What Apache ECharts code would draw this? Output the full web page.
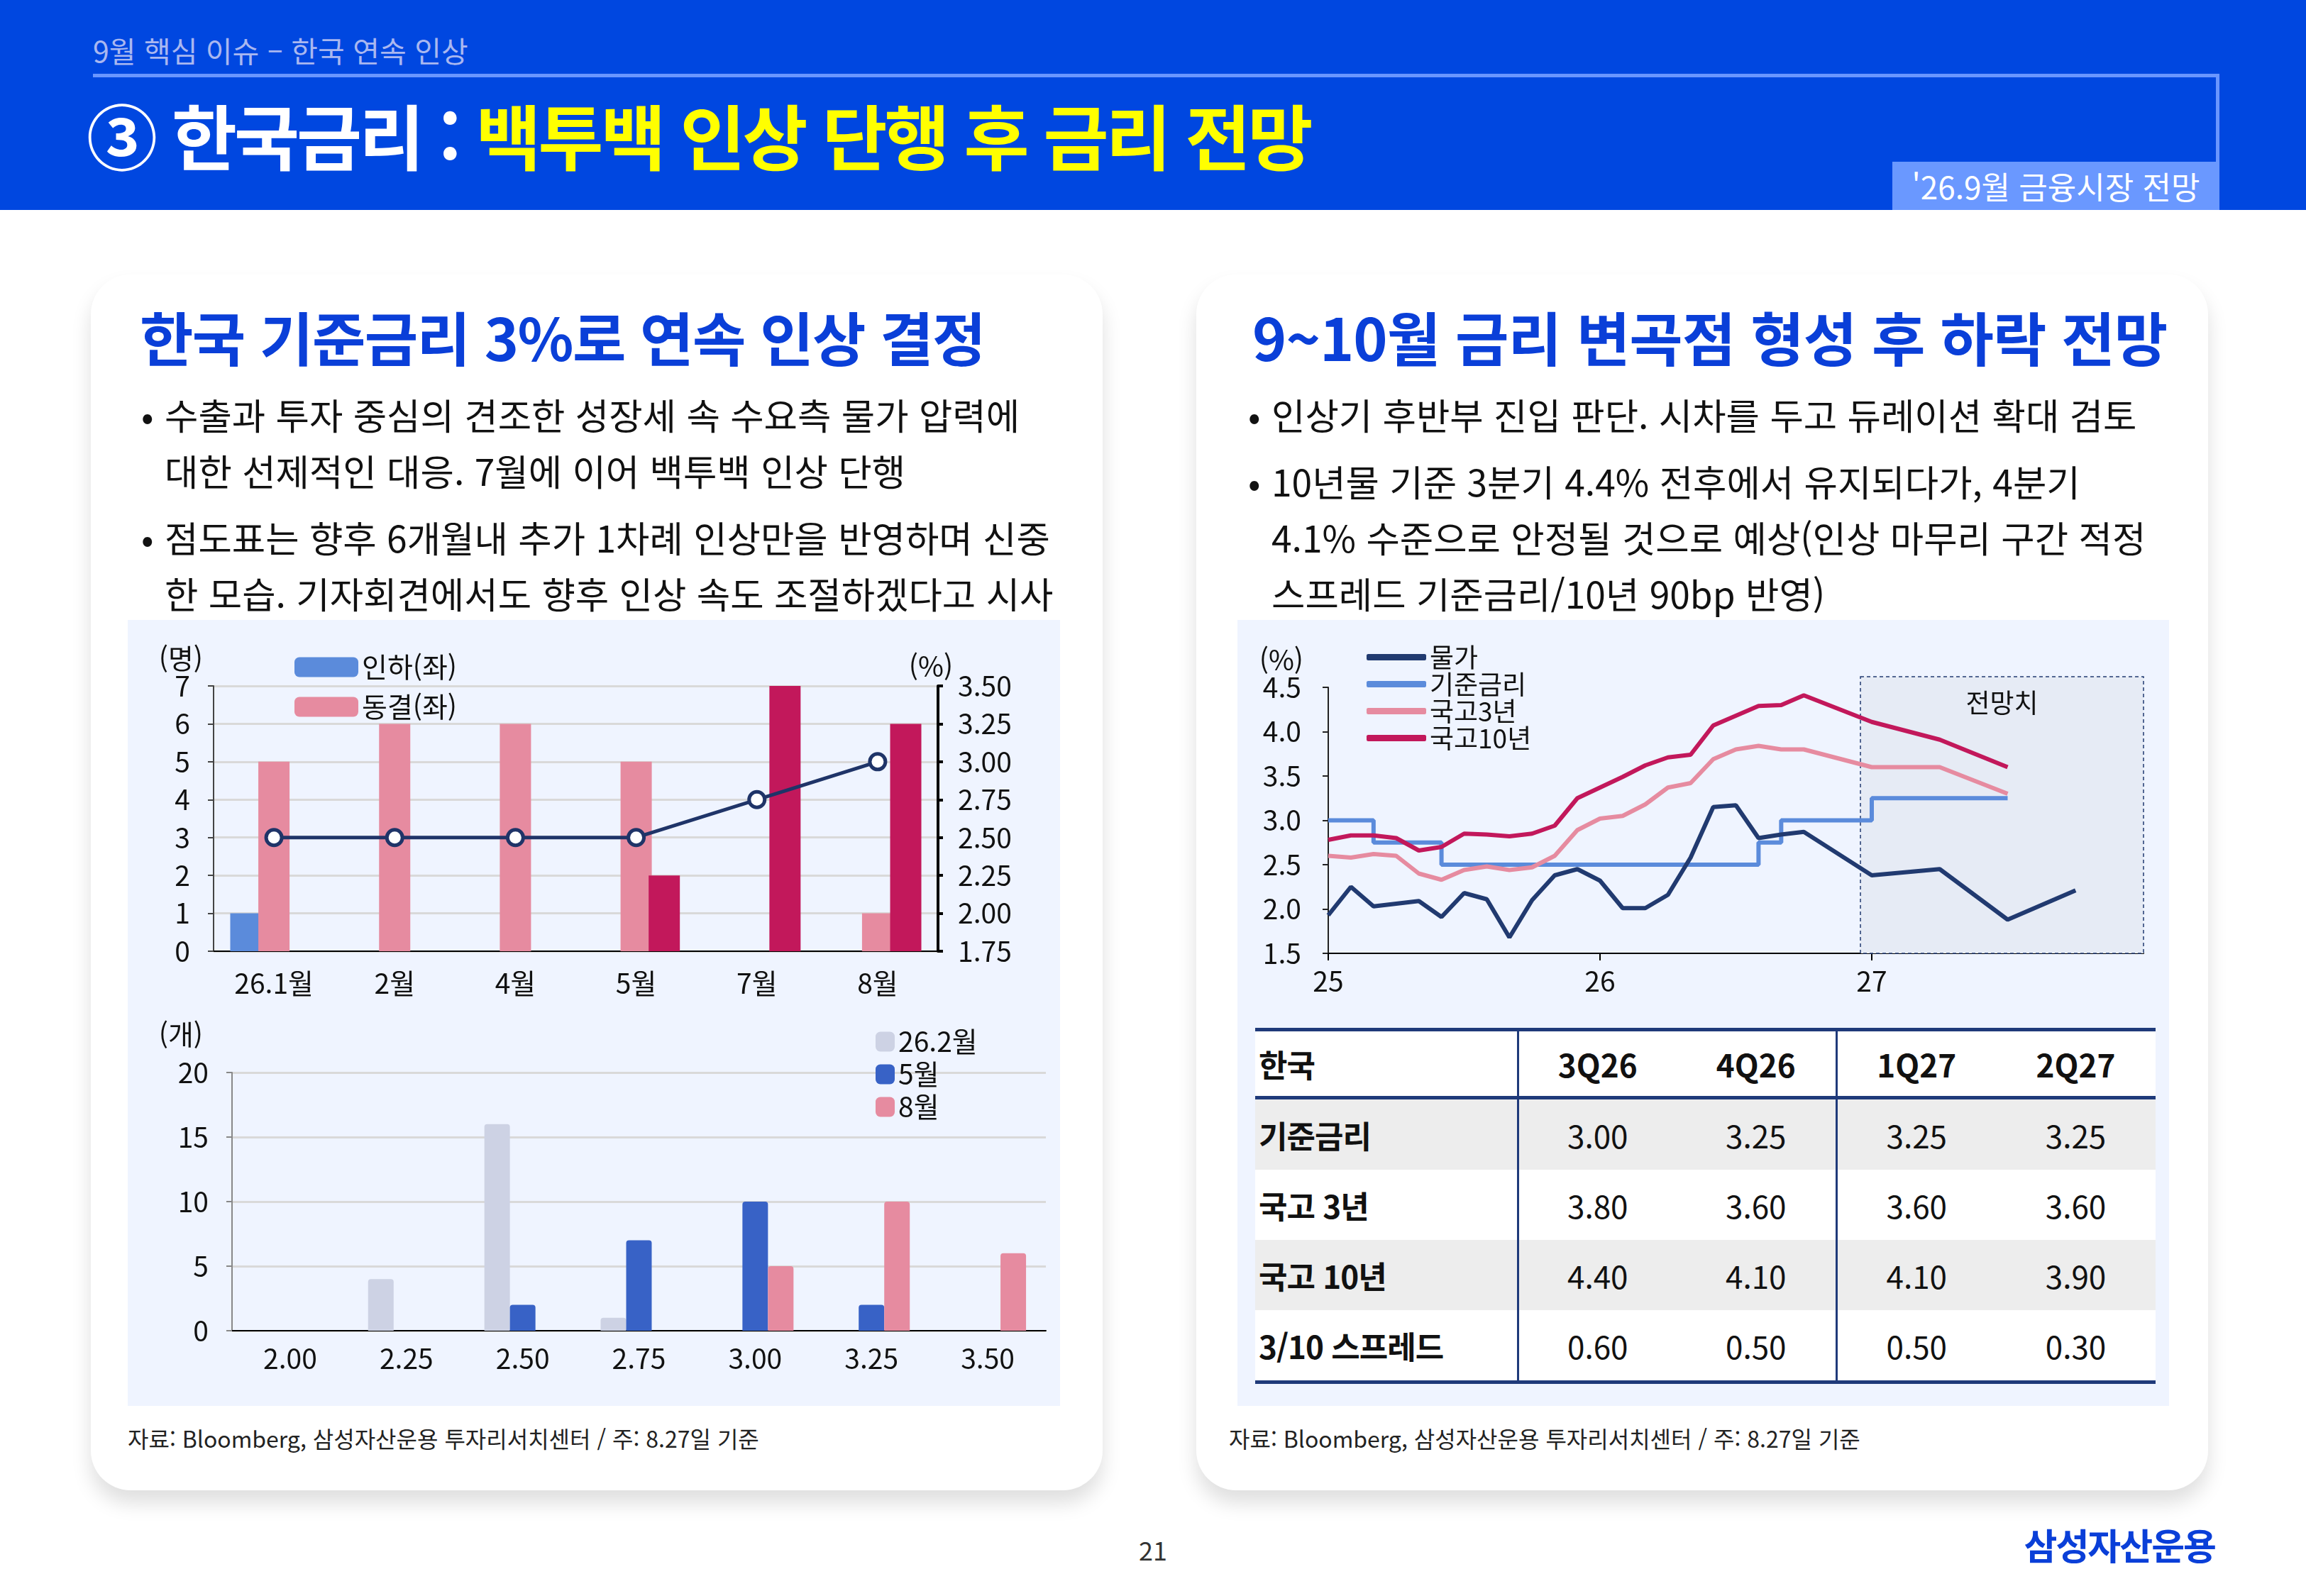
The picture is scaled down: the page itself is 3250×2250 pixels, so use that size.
<!DOCTYPE html>
<html lang="ko">
<head>
<meta charset="utf-8">
<title>한국금리 전망</title>
<script src="https://cdn.jsdelivr.net/npm/echarts@6/dist/echarts.min.js"></script>
<style>
html,body{margin:0;padding:0;}
body{width:3250px;height:2250px;position:relative;overflow:hidden;background:#fff;
  font-family:'Noto Sans CJK KR','Noto Sans',sans-serif;color:#111;}
.abs{position:absolute;}
#head{left:0;top:0;width:3250px;height:296px;background:#0047E0;}
#sub{left:131px;top:45px;font-size:41px;line-height:50px;color:#A9B7F0;white-space:nowrap;}
#hline{left:131px;top:104px;width:2997px;height:5px;background:#6A96FF;}
#vline{left:3123px;top:104px;width:5px;height:124px;background:#6A96FF;}
#badge{left:2667px;top:228px;width:461px;height:68px;background:#6A98FF;color:#fff;
  font-size:44px;line-height:68px;text-align:center;white-space:nowrap;}
#title{left:122px;top:133px;font-size:100px;line-height:112px;font-weight:700;color:#fff;
  letter-spacing:-4px;white-space:nowrap;}
#title .y{color:#FFFF00;}
.card{top:387px;width:1426px;height:1714px;background:#fff;border-radius:56px;
  box-shadow:0 18px 28px rgba(0,0,0,0.13);}
.ctitle{top:426px;font-size:82px;font-weight:700;color:#0A3FD8;line-height:96px;
  white-space:nowrap;letter-spacing:-1px;}
.bullets{top:544px;}
.bul{font-size:51.5px;line-height:79px;white-space:nowrap;padding-left:31px;position:relative;margin-bottom:15px;}
.bul:before{content:'•';position:absolute;left:-2px;top:0;}
.panel{top:874px;height:1108px;background:#EFF4FF;}
.src{top:2005px;font-size:32px;line-height:44px;color:#222;white-space:nowrap;}
#pnum{left:1590px;top:2158px;width:70px;text-align:center;font-size:36px;color:#333;}
#logo{right:128px;top:2140px;font-size:51px;font-weight:700;color:#0A3FD8;letter-spacing:-2px;}
#tbl{position:absolute;left:25px;top:575px;width:1269px;border-collapse:collapse;table-layout:fixed;
  font-size:44px;color:#111;}
#tbl td,#tbl th{padding:0;text-align:center;font-weight:400;}
#tbl td{height:99px;}
#tbl th{height:91px;}
#tbl .lab{text-align:left;padding-left:5px;font-weight:700;letter-spacing:-1px;}
#tbl thead th{font-weight:700;background:#fff;}
#tbl thead tr{border-top:5px solid #1F3A7A;border-bottom:5px solid #1F3A7A;}
#tbl tbody tr:last-child{border-bottom:5px solid #1F3A7A;}
#tbl tbody tr:nth-child(odd) td{background:#EDEDED;}
#tbl tbody tr:nth-child(even) td{background:#fff;}
#tbl .sep{border-left:3px solid #1F3A7A;}
</style>
</head>
<body>
<div id="head" class="abs"></div>
<div id="sub" class="abs">9월 핵심 이슈 – 한국 연속 인상</div>
<div id="hline" class="abs"></div>
<div id="vline" class="abs"></div>
<div id="badge" class="abs">'26.9월 금융시장 전망</div>
<div id="title" class="abs"><span>③ 한국금리 : </span><span class="y">백투백 인상 단행 후 금리 전망</span></div>

<div class="card abs" style="left:128px;"></div>
<div class="card abs" style="left:1686px;"></div>

<div class="ctitle abs" style="left:197px;letter-spacing:-1.6px;">한국 기준금리 3%로 연속 인상 결정</div>
<div class="bullets abs" style="left:201px;">
  <div class="bul">수출과 투자 중심의 견조한 성장세 속 수요측 물가 압력에<br>대한 선제적인 대응. 7월에 이어 백투백 인상 단행</div>
  <div class="bul">점도표는 향후 6개월내 추가 1차례 인상만을 반영하며 신중<br>한 모습. 기자회견에서도 향후 인상 속도 조절하겠다고 시사</div>
</div>

<div class="ctitle abs" style="left:1765px;">9~10월 금리 변곡점 형성 후 하락 전망</div>
<div class="bullets abs" style="left:1761px;">
  <div class="bul">인상기 후반부 진입 판단. 시차를 두고 듀레이션 확대 검토</div>
  <div class="bul">10년물 기준 3분기 4.4% 전후에서 유지되다가, 4분기<br>4.1% 수준으로 안정될 것으로 예상(인상 마무리 구간 적정<br>스프레드 기준금리/10년 90bp 반영)</div>
</div>

<div id="leftPanel" class="panel abs" style="left:180px;width:1314px;"></div>
<div id="rightPanel" class="panel abs" style="left:1744px;width:1313px;">
  <div id="rightChart" style="position:absolute;left:0;top:0;width:1313px;height:560px;"></div>
  <table id="tbl"></table>
</div>

<div class="src abs" style="left:180px;">자료: Bloomberg, 삼성자산운용 투자리서치센터 / 주: 8.27일 기준</div>
<div class="src abs" style="left:1732px;">자료: Bloomberg, 삼성자산운용 투자리서치센터 / 주: 8.27일 기준</div>
<div id="pnum" class="abs">21</div>
<div id="logo" class="abs">삼성자산운용</div>

<script>
var FONT = "'Noto Sans CJK KR', 'Noto Sans', sans-serif";

// 금통위 투표 (명) + 기준금리 (%)
var voteCats = ['26.1월', '2월', '4월', '5월', '7월', '8월'];
var voteCut = [1, 0, 0, 0, 0, 0];
var voteHold = [5, 6, 6, 5, 0, 1];
var voteHike = [0, 0, 0, 2, 7, 6];
var policyRate = [2.50, 2.50, 2.50, 2.50, 2.75, 3.00];

// 점도표 (개)
var dotCats = ['2.00', '2.25', '2.50', '2.75', '3.00', '3.25', '3.50'];
var dotFeb = [0, 4, 16, 1, 0, 0, 0];
var dotMay = [0, 0, 2, 7, 10, 2, 0];
var dotAug = [0, 0, 0, 0, 5, 10, 6];

// 금리 추이: 25년 1월 = 0 기준 월 인덱스
var cpiMonth = [0,1,2,3,4,5,6,7,8,9,10,11,12,13,14,15,16,17,18,19,20,21,24,27,30,33];
var cpi = [1.93,2.25,2.03,2.06,2.09,1.91,2.18,2.11,1.68,2.10,2.38,2.45,2.32,2.01,2.01,2.16,2.58,3.15,3.17,2.80,2.84,2.87,2.38,2.45,1.88,2.21];
var baseMonth = [0, 2, 5, 19, 20, 24, 30];
var baseRate = [3.00, 2.75, 2.50, 2.75, 3.00, 3.25, 3.25];
var bondMonth = [0,1,2,3,4,5,6,7,8,9,10,11,12,13,14,15,16,17,18,19,20,21,24,27,30];
var ktb3 = [2.60,2.58,2.62,2.60,2.40,2.33,2.44,2.48,2.44,2.47,2.60,2.89,3.02,3.05,3.18,3.37,3.42,3.69,3.80,3.84,3.80,3.80,3.60,3.60,3.30];
var ktb10 = [2.78,2.83,2.83,2.80,2.66,2.70,2.85,2.84,2.82,2.85,2.94,3.25,3.37,3.49,3.62,3.71,3.74,4.07,4.18,4.29,4.30,4.41,4.11,3.91,3.60];
var yearTicks = [25, 26, 27];
var forecastFrom = 23.5; // 전망 구간 시작 (월 인덱스)

// 표
var tblHead = ['한국', '3Q26', '4Q26', '1Q27', '2Q27'];
var tblRows = ['기준금리', '국고 3년', '국고 10년', '3/10 스프레드'];
var tblVals = [
  ['3.00', '3.25', '3.25', '3.25'],
  ['3.80', '3.60', '3.60', '3.60'],
  ['4.40', '4.10', '4.10', '3.90'],
  ['0.60', '0.50', '0.50', '0.30']
];

function yr(m) { return 25 + m / 12; }
function pairs(ms, vs) { return ms.map(function (m, i) { return [yr(m), vs[i]]; }); }

var NAVY = '#213A70', BLUE = '#5B8BDB', PINK = '#E68BA0', RED = '#C2185B';

var lab = {fontSize: 39, color: '#111', fontFamily: FONT};

var leftChart = echarts.init(document.getElementById('leftPanel'));
leftChart.setOption({
  textStyle: {fontFamily: FONT},
  animation: false,
  grid: [
    {left: 121, right: 172, top: 93, height: 374},
    {left: 147, right: 20, top: 638, height: 364}
  ],
  legend: [
    {data: ['인하(좌)', '동결(좌)'], orient: 'vertical', left: 230, top: 42,
      itemWidth: 90, itemHeight: 28, itemGap: 17, icon: 'roundRect', textStyle: lab},
    {data: ['26.2월', '5월', '8월'], orient: 'vertical', left: 1049, top: 570,
      itemWidth: 27, itemHeight: 28, itemGap: 7, icon: 'roundRect', textStyle: lab}
  ],
  xAxis: [
    {gridIndex: 0, type: 'category', data: voteCats,
      axisLine: {lineStyle: {color: '#000', width: 2}},
      axisTick: {length: 10, lineStyle: {color: '#000', width: 2}},
      axisLabel: Object.assign({margin: 26}, lab)},
    {gridIndex: 1, type: 'category', data: dotCats,
      axisLine: {lineStyle: {color: '#000', width: 2}},
      axisTick: {length: 10, lineStyle: {color: '#000', width: 2}},
      axisLabel: Object.assign({margin: 20}, lab)}
  ],
  yAxis: [
    {gridIndex: 0, type: 'value', min: 0, max: 7, interval: 1,
      name: '(명)', nameGap: 0, nameTextStyle: Object.assign({align: 'right', padding: [0, 15, 0, 0]}, lab),
      axisLine: {show: true, lineStyle: {color: '#444', width: 2}},
      axisTick: {show: true, length: 8, lineStyle: {color: '#444', width: 2}},
      splitLine: {lineStyle: {color: '#D9D9D9', width: 3}},
      axisLabel: Object.assign({margin: 33}, lab)},
    {gridIndex: 0, type: 'value', position: 'right', min: 1.75, max: 3.5, interval: 0.25,
      name: '(%)', nameGap: 8, nameTextStyle: Object.assign({align: 'center', padding: [0, 20, 0, 0]}, lab),
      axisLine: {show: true, lineStyle: {color: '#000', width: 4}},
      axisTick: {show: true, length: 7, lineStyle: {color: '#000', width: 4}},
      splitLine: {show: false},
      axisLabel: Object.assign({margin: 28, formatter: function (v) { return v.toFixed(2); }}, lab)},
    {gridIndex: 1, type: 'value', min: 0, max: 20, interval: 5,
      name: '(개)', nameGap: 34, nameTextStyle: Object.assign({align: 'right', padding: [0, 41, 0, 0]}, lab),
      axisLine: {show: true, lineStyle: {color: '#888', width: 2}},
      axisTick: {show: true, length: 8, lineStyle: {color: '#888', width: 2}},
      splitLine: {lineStyle: {color: '#D9D9D9', width: 3}},
      axisLabel: Object.assign({margin: 33}, lab)}
  ],
  series: [
    {name: '인하(좌)', type: 'bar', xAxisIndex: 0, yAxisIndex: 0, data: voteCut,
      barWidth: 44, barGap: '-10%', itemStyle: {color: BLUE}},
    {name: '동결(좌)', type: 'bar', xAxisIndex: 0, yAxisIndex: 0, data: voteHold,
      barWidth: 44, barGap: '-10%', itemStyle: {color: PINK}},
    {name: '인상(좌)', type: 'bar', xAxisIndex: 0, yAxisIndex: 0, data: voteHike,
      barWidth: 44, barGap: '-10%', itemStyle: {color: RED}},
    {name: '기준금리(우)', type: 'line', xAxisIndex: 0, yAxisIndex: 1, data: policyRate, z: 5,
      symbol: 'circle', symbolSize: 22,
      itemStyle: {color: '#fff', borderColor: '#1F3468', borderWidth: 5},
      lineStyle: {color: '#1F3468', width: 5}},
    {name: '26.2월', type: 'bar', xAxisIndex: 1, yAxisIndex: 2, data: dotFeb,
      barWidth: 36, barGap: '0%', itemStyle: {color: '#CDD2E4', borderRadius: [4, 4, 0, 0]}},
    {name: '5월', type: 'bar', xAxisIndex: 1, yAxisIndex: 2, data: dotMay,
      barWidth: 36, barGap: '0%', itemStyle: {color: '#3862C6', borderRadius: [4, 4, 0, 0]}},
    {name: '8월', type: 'bar', xAxisIndex: 1, yAxisIndex: 2, data: dotAug,
      barWidth: 36, barGap: '0%', itemStyle: {color: PINK, borderRadius: [4, 4, 0, 0]}}
  ]
});

var rightChart = echarts.init(document.getElementById('rightChart'));
rightChart.setOption({
  textStyle: {fontFamily: FONT},
  animation: false,
  grid: {left: 128, right: 36, top: 95, height: 375},
  legend: {data: ['물가', '기준금리', '국고3년', '국고10년'], orient: 'vertical', left: 177, top: 29,
    itemWidth: 84, itemHeight: 9, itemGap: 1, icon: 'roundRect',
    textStyle: Object.assign({lineHeight: 36}, lab, {fontSize: 37})},
  xAxis: {type: 'value', min: 25, max: 28, interval: 1,
    axisLine: {lineStyle: {color: '#000', width: 2}},
    axisTick: {length: 10, customValues: yearTicks, lineStyle: {color: '#000', width: 2}},
    splitLine: {show: false},
    axisLabel: Object.assign({margin: 20, customValues: yearTicks}, lab)},
  yAxis: {type: 'value', min: 1.5, max: 4.5, interval: 0.5,
    name: '(%)', nameGap: 18, nameTextStyle: Object.assign({align: 'right', padding: [0, 35, 0, 0]}, lab),
    axisLine: {show: true, lineStyle: {color: '#222', width: 2}},
    axisTick: {show: true, length: 8, lineStyle: {color: '#222', width: 2}},
    splitLine: {show: false},
    axisLabel: Object.assign({margin: 38, formatter: function (v) { return v.toFixed(1); }}, lab)},
  series: [
    {name: '물가', type: 'line', data: pairs(cpiMonth, cpi), showSymbol: false, z: 4,
      lineStyle: {color: NAVY, width: 6}, itemStyle: {color: NAVY}},
    {name: '기준금리', type: 'line', step: 'end', data: pairs(baseMonth, baseRate), showSymbol: false,
      lineStyle: {color: BLUE, width: 6}, itemStyle: {color: BLUE}},
    {name: '국고3년', type: 'line', data: pairs(bondMonth, ktb3), showSymbol: false,
      lineStyle: {color: PINK, width: 6}, itemStyle: {color: PINK}},
    {name: '국고10년', type: 'line', data: pairs(bondMonth, ktb10), showSymbol: false,
      lineStyle: {color: RED, width: 6}, itemStyle: {color: RED}}
  ]
});

// 전망 구간 박스
var p1 = rightChart.convertToPixel({gridIndex: 0}, [yr(forecastFrom), 4.62]);
var p2 = rightChart.convertToPixel({gridIndex: 0}, [28, 1.5]);
rightChart.setOption({
  graphic: [
    {type: 'rect', z: 1, silent: true,
      shape: {x: p1[0], y: p1[1], width: p2[0] - p1[0], height: p2[1] - p1[1]},
      style: {fill: '#E6EBF5', stroke: NAVY, lineWidth: 1.5, lineDash: [5, 4]}},
    {type: 'text', z: 3, x: (p1[0] + p2[0]) / 2, y: p1[1] + 18,
      style: {text: '전망치', fill: '#111', fontSize: 37, fontFamily: FONT, align: 'center', verticalAlign: 'top'}}
  ]
});

// 표 그리기
var tbl = document.getElementById('tbl');
var html = '<colgroup><col style="width:370px"><col style="width:224px"><col style="width:225px"><col style="width:225px"><col style="width:225px"></colgroup>';
html += '<thead><tr>' + tblHead.map(function (h, i) {
  return '<th class="' + (i === 0 ? 'lab' : (i === 1 || i === 3 ? 'sep' : '')) + '">' + h + '</th>';
}).join('') + '</tr></thead><tbody>';
tblRows.forEach(function (r, ri) {
  html += '<tr><td class="lab">' + r + '</td>' + tblVals[ri].map(function (v, i) {
    return '<td class="' + (i === 0 || i === 2 ? 'sep' : '') + '">' + v + '</td>';
  }).join('') + '</tr>';
});
html += '</tbody>';
tbl.innerHTML = html;
</script>
</body>
</html>
